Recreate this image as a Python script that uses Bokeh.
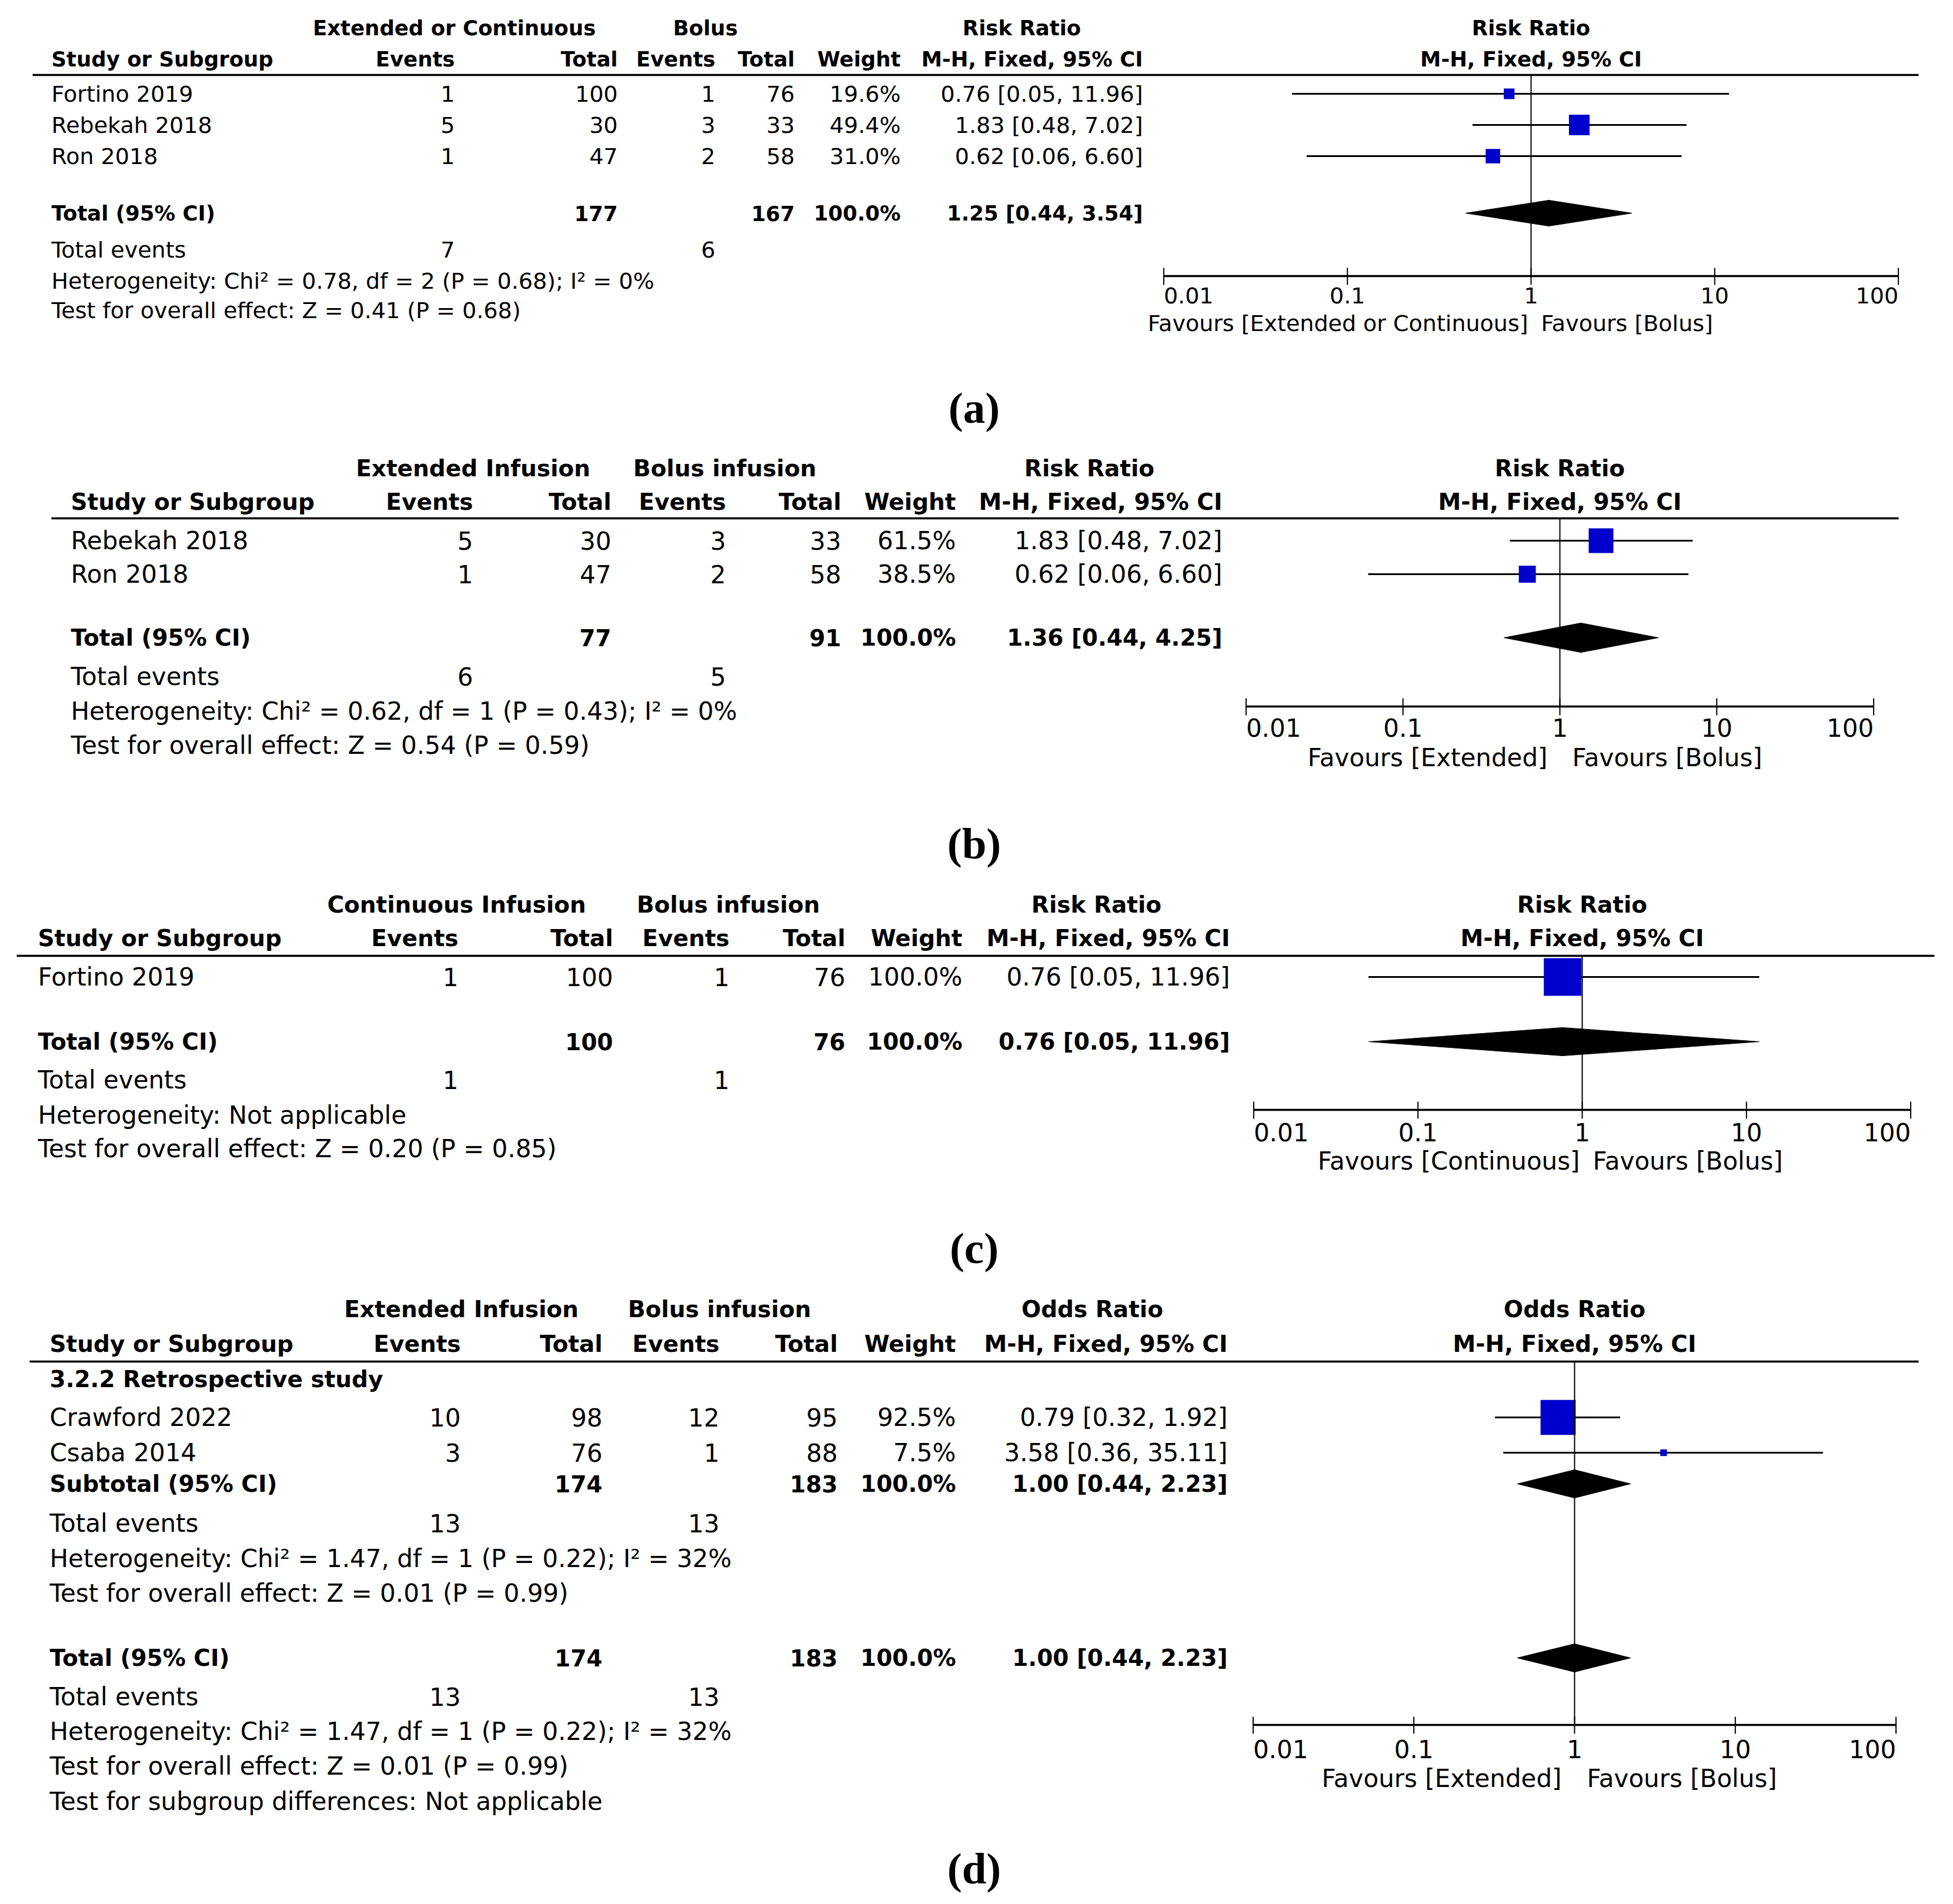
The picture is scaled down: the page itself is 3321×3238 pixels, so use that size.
import math
from bokeh.plotting import figure
from bokeh.models import Range1d, LogScale, ColumnDataSource
from bokeh.core.properties import value
from bokeh.embed import file_html
from bokeh.resources import INLINE

FONT = "DejaVu Sans"
SERIF = "Liberation Serif"
BLUE = "#0000CD"

# ---------------------------------------------------------------- data
header_study = "Study or Subgroup"
header_cols = ["Events", "Total", "Events", "Total", "Weight", "M-H, Fixed, 95% CI"]
forest_subtitle = "M-H, Fixed, 95% CI"
tick_values = [0.01, 0.1, 1, 10, 100]
tick_labels = ["0.01", "0.1", "1", "10", "100"]
panel_labels = ["(a)", "(b)", "(c)", "(d)"]

# (a)
a_groups = ["Extended or Continuous", "Bolus"]
a_measure = "Risk Ratio"
a_favours = ["Favours [Extended or Continuous]", "Favours [Bolus]"]
a_studies = ["Fortino 2019", "Rebekah 2018", "Ron 2018"]
a_events_exp = [1, 5, 1]
a_total_exp = [100, 30, 47]
a_events_ctl = [1, 3, 2]
a_total_ctl = [76, 33, 58]
a_weight = [19.6, 49.4, 31.0]
a_est = [0.76, 1.83, 0.62]
a_lo = [0.05, 0.48, 0.06]
a_hi = [11.96, 7.02, 6.60]
a_pooled = [1.25, 0.44, 3.54]
a_pooled_totals = [177, 167]
a_total_events = [7, 6]
a_heterogeneity = "Heterogeneity: Chi² = 0.78, df = 2 (P = 0.68); I² = 0%"
a_overall = "Test for overall effect: Z = 0.41 (P = 0.68)"

# (b)
b_groups = ["Extended Infusion", "Bolus infusion"]
b_measure = "Risk Ratio"
b_favours = ["Favours [Extended]", "Favours [Bolus]"]
b_studies = ["Rebekah 2018", "Ron 2018"]
b_events_exp = [5, 1]
b_total_exp = [30, 47]
b_events_ctl = [3, 2]
b_total_ctl = [33, 58]
b_weight = [61.5, 38.5]
b_est = [1.83, 0.62]
b_lo = [0.48, 0.06]
b_hi = [7.02, 6.60]
b_pooled = [1.36, 0.44, 4.25]
b_pooled_totals = [77, 91]
b_total_events = [6, 5]
b_heterogeneity = "Heterogeneity: Chi² = 0.62, df = 1 (P = 0.43); I² = 0%"
b_overall = "Test for overall effect: Z = 0.54 (P = 0.59)"

# (c)
c_groups = ["Continuous Infusion", "Bolus infusion"]
c_measure = "Risk Ratio"
c_favours = ["Favours [Continuous]", "Favours [Bolus]"]
c_studies = ["Fortino 2019"]
c_events_exp = [1]
c_total_exp = [100]
c_events_ctl = [1]
c_total_ctl = [76]
c_weight = [100.0]
c_est = [0.76]
c_lo = [0.05]
c_hi = [11.96]
c_pooled = [0.76, 0.05, 11.96]
c_pooled_totals = [100, 76]
c_total_events = [1, 1]
c_heterogeneity = "Heterogeneity: Not applicable"
c_overall = "Test for overall effect: Z = 0.20 (P = 0.85)"

# (d)
d_groups = ["Extended Infusion", "Bolus infusion"]
d_measure = "Odds Ratio"
d_favours = ["Favours [Extended]", "Favours [Bolus]"]
d_subgroup = "3.2.2 Retrospective study"
d_studies = ["Crawford 2022", "Csaba 2014"]
d_events_exp = [10, 3]
d_total_exp = [98, 76]
d_events_ctl = [12, 1]
d_total_ctl = [95, 88]
d_weight = [92.5, 7.5]
d_est = [0.79, 3.58]
d_lo = [0.32, 0.36]
d_hi = [1.92, 35.11]
d_sub_pooled = [1.00, 0.44, 2.23]
d_sub_totals = [174, 183]
d_sub_events = [13, 13]
d_sub_heterogeneity = "Heterogeneity: Chi² = 1.47, df = 1 (P = 0.22); I² = 32%"
d_sub_overall = "Test for overall effect: Z = 0.01 (P = 0.99)"
d_pooled = [1.00, 0.44, 2.23]
d_pooled_totals = [174, 183]
d_total_events = [13, 13]
d_heterogeneity = "Heterogeneity: Chi² = 1.47, df = 1 (P = 0.22); I² = 32%"
d_overall = "Test for overall effect: Z = 0.01 (P = 0.99)"
d_subgroup_diff = "Test for subgroup differences: Not applicable"


def study_rows(names, ee, te, ec, tc, w, est, lo, hi):
    return [("study", names[i], ee[i], te[i], ec[i], tc[i], w[i], est[i], lo[i], hi[i])
            for i in range(len(names))]


rows_a = study_rows(a_studies, a_events_exp, a_total_exp, a_events_ctl, a_total_ctl,
                    a_weight, a_est, a_lo, a_hi) + [
    ("pooled", "Total (95% CI)", a_pooled_totals[0], a_pooled_totals[1], 100.0, *a_pooled),
    ("events", "Total events", *a_total_events),
    ("note", a_heterogeneity), ("note", a_overall)]
rows_b = study_rows(b_studies, b_events_exp, b_total_exp, b_events_ctl, b_total_ctl,
                    b_weight, b_est, b_lo, b_hi) + [
    ("pooled", "Total (95% CI)", b_pooled_totals[0], b_pooled_totals[1], 100.0, *b_pooled),
    ("events", "Total events", *b_total_events),
    ("note", b_heterogeneity), ("note", b_overall)]
rows_c = study_rows(c_studies, c_events_exp, c_total_exp, c_events_ctl, c_total_ctl,
                    c_weight, c_est, c_lo, c_hi) + [
    ("pooled", "Total (95% CI)", c_pooled_totals[0], c_pooled_totals[1], 100.0, *c_pooled),
    ("events", "Total events", *c_total_events),
    ("note", c_heterogeneity), ("note", c_overall)]
rows_d = [("heading", d_subgroup)] + study_rows(
    d_studies, d_events_exp, d_total_exp, d_events_ctl, d_total_ctl,
    d_weight, d_est, d_lo, d_hi) + [
    ("pooled", "Subtotal (95% CI)", d_sub_totals[0], d_sub_totals[1], 100.0, *d_sub_pooled),
    ("events", "Total events", *d_sub_events),
    ("note", d_sub_heterogeneity), ("note", d_sub_overall),
    ("pooled", "Total (95% CI)", d_pooled_totals[0], d_pooled_totals[1], 100.0, *d_pooled),
    ("events", "Total events", *d_total_events),
    ("note", d_heterogeneity), ("note", d_overall), ("note", d_subgroup_diff)]

panels = [
    dict(key="a", groups=a_groups, measure=a_measure, favours=a_favours, rows=rows_a),
    dict(key="b", groups=b_groups, measure=b_measure, favours=b_favours, rows=rows_b),
    dict(key="c", groups=c_groups, measure=c_measure, favours=c_favours, rows=rows_c),
    dict(key="d", groups=d_groups, measure=d_measure, favours=d_favours, rows=rows_d),
]

# ---------------------------------------------------------------- layout (pixels)
layouts = [
    dict(fs=38, fb=35.5, left=87, cols=[773, 1050, 1216, 1351, 1531, 1943],
         gx=[772, 1199], mx=1737, hy=[47, 100], line=[127, 55, 3262],
         ry=[159, 212, 265, 362, 424, 477, 527], one_x=2603, decade=312.3,
         axis=469, tly=502, fy=549, foff=[-5, 17], dh=22, label=693),
    dict(fs=42, fb=39, left=120, cols=[804, 1039, 1234, 1430, 1625, 2078],
         gx=[804, 1232], mx=1852, hy=[796, 853], line=[881, 87, 3228],
         ry=[919, 976, 1084, 1150, 1209, 1267], one_x=2652, decade=266.8,
         axis=1201, tly=1237, fy=1288, foff=[-21, 21], dh=25, label=1434),
    dict(fs=42, fb=39, left=64, cols=[779, 1042, 1240, 1437, 1636, 2091],
         gx=[776, 1238], mx=1864, hy=[1538, 1595], line=[1625, 28, 3289],
         ry=[1661, 1771, 1836, 1896, 1953], one_x=2690, decade=279.3,
         axis=1887, tly=1925, fy=1974, foff=[-4, 18], dh=24, label=2122),
    dict(fs=42, fb=39, left=84, cols=[783, 1024, 1223, 1424, 1625, 2087],
         gx=[784, 1223], mx=1857, hy=[2226, 2285], line=[2315, 50, 3262],
         ry=[2345, 2410, 2470, 2523, 2590, 2650, 2709, 2819, 2885, 2944, 3003, 3063],
         one_x=2677, decade=273.3,
         axis=2933, tly=2974, fy=3024, foff=[-22, 21], dh=24, label=3177),
]

X0, Y0 = 0, 0
W, H = 3300, 3236
LABEL_X = 1656

p = figure(width=W, height=H, x_range=Range1d(X0, X0 + W), y_range=Range1d(Y0 + H, Y0),
           output_backend="svg", toolbar_location=None, min_border=0,
           x_axis_location=None, y_axis_location=None)
p.grid.visible = False
p.outline_line_color = None
p.background_fill_color = "white"
p.border_fill_color = "white"

extra_ranges = {}
extra_scales = {}


def txt(xs, ys, texts, align="left", bold=False, size=38, rng=None, font=FONT,
        x_offset=0, color="black"):
    src = ColumnDataSource(dict(x=list(xs), y=list(ys), t=list(texts)))
    kw = dict(x="x", y="y", text="t", source=src, text_align=align,
              text_baseline="middle", text_font=value(font),
              text_font_size=f"{size}px",
              text_font_style="bold" if bold else "normal",
              text_color=color, x_offset=x_offset)
    if rng:
        kw["x_range_name"] = rng
    p.text(**kw)


def fmt_ci(e, lo, hi):
    return f"{e:.2f} [{lo:.2f}, {hi:.2f}]"


def box_side(w):
    return 7 + 0.57 * w


for idx, (P, L) in enumerate(zip(panels, layouts)):
    rng = "log_" + P["key"]
    C, D = L["one_x"], L["decade"]
    extra_ranges[rng] = Range1d(start=10 ** ((X0 - C) / D), end=10 ** ((X0 + W - C) / D))
    extra_scales[rng] = LogScale()
    fs, fb, cols = L["fs"], L["fb"], L["cols"]
    y1, y2 = L["hy"]

    # headers
    txt([L["gx"][0]], [y1], [P["groups"][0]], "center", True, fb)
    txt([L["gx"][1]], [y1], [P["groups"][1]], "center", True, fb)
    txt([L["mx"]], [y1], [P["measure"]], "center", True, fb)
    txt([1], [y1], [P["measure"]], "center", True, fb, rng=rng)
    txt([L["left"]], [y2], [header_study], "left", True, fb)
    for x, t in zip(cols, header_cols):
        txt([x], [y2], [t], "right", True, fb)
    txt([1], [y2], [forest_subtitle], "center", True, fb, rng=rng)
    ly, lx0, lx1 = L["line"]
    p.segment(x0=[lx0], x1=[lx1], y0=[ly], y1=[ly], line_width=3.5, line_color="black")

    # rows
    for row, y in zip(P["rows"], L["ry"]):
        kind = row[0]
        if kind == "study":
            _, name, ee, te, ec, tc, w, e, lo, hi = row
            txt([L["left"]], [y], [name], "left", False, fs)
            vals = [str(ee), str(te), str(ec), str(tc), f"{w:.1f}%", fmt_ci(e, lo, hi)]
            for x, t in zip(cols, vals):
                txt([x], [y], [t], "right", False, fs)
            p.segment(x0=[lo], x1=[hi], y0=[y], y1=[y], line_width=3,
                      line_color="black", x_range_name=rng)
            p.scatter(x=[e], y=[y], size=box_side(w), marker="square",
                      fill_color=BLUE, line_color=None, x_range_name=rng)
        elif kind == "pooled":
            _, name, te, tc, w, e, lo, hi = row
            txt([L["left"]], [y], [name], "left", True, fb)
            txt([cols[1]], [y], [str(te)], "right", True, fb)
            txt([cols[3]], [y], [str(tc)], "right", True, fb)
            txt([cols[4]], [y], [f"{w:.1f}%"], "right", True, fb)
            txt([cols[5]], [y], [fmt_ci(e, lo, hi)], "right", True, fb)
            h = L["dh"]
            p.patches(xs=[[lo, e, hi, e]], ys=[[y, y - h, y, y + h]],
                      fill_color="black", line_color="black", line_width=1,
                      x_range_name=rng)
        elif kind == "events":
            _, name, ee, ec = row
            txt([L["left"]], [y], [name], "left", False, fs)
            txt([cols[0]], [y], [str(ee)], "right", False, fs)
            txt([cols[2]], [y], [str(ec)], "right", False, fs)
        elif kind == "note":
            txt([L["left"]], [y], [row[1]], "left", False, fs)
        elif kind == "heading":
            txt([L["left"]], [y], [row[1]], "left", True, fb)

    # forest axis
    ay = L["axis"]
    p.segment(x0=[1], x1=[1], y0=[ly], y1=[ay], line_width=2, line_color="black",
              x_range_name=rng)
    p.segment(x0=[tick_values[0]], x1=[tick_values[-1]], y0=[ay], y1=[ay],
              line_width=3.5, line_color="black", x_range_name=rng)
    p.segment(x0=tick_values, x1=tick_values, y0=[ay - 14] * len(tick_values),
              y1=[ay + 15] * len(tick_values), line_width=2, line_color="black",
              x_range_name=rng)
    txt([tick_values[0]], [L["tly"]], [tick_labels[0]], "left", False, fs, rng=rng)
    txt(tick_values[1:-1], [L["tly"]] * (len(tick_values) - 2), tick_labels[1:-1],
        "center", False, fs, rng=rng)
    txt([tick_values[-1]], [L["tly"]], [tick_labels[-1]], "right", False, fs, rng=rng)
    txt([1], [L["fy"]], [P["favours"][0]], "right", False, fs, rng=rng,
        x_offset=L["foff"][0])
    txt([1], [L["fy"]], [P["favours"][1]], "left", False, fs, rng=rng,
        x_offset=L["foff"][1])

    # panel label
    txt([LABEL_X], [L["label"]], [panel_labels[idx]], "center", True, 75, font=SERIF)

p.extra_x_ranges = extra_ranges
p.extra_x_scales = extra_scales

open("out.html", "w").write(file_html(p, INLINE))
